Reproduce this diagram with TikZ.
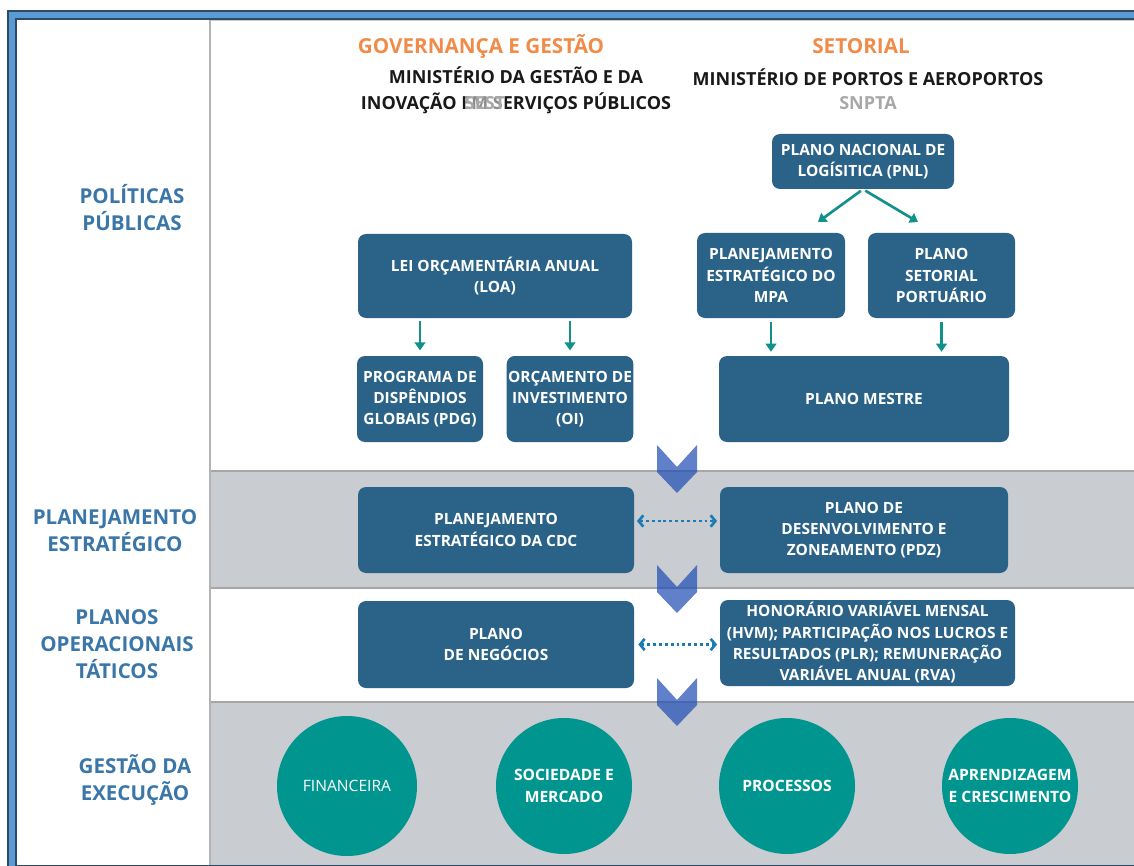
\documentclass[tikz,border=0pt]{standalone}
\usepackage{fontspec}
\setmainfont{Open Sans}
\usetikzlibrary{arrows.meta, positioning, shapes.geometric}
\definecolor{boxblue}{HTML}{2B6388}
\definecolor{areateal}{HTML}{00968F}
\definecolor{flowteal}{HTML}{12918A}
\definecolor{linkblue}{HTML}{1A7BB5}
\definecolor{layerblue}{HTML}{3A76A8}
\definecolor{headorange}{HTML}{F08C4A}
\definecolor{headgray}{HTML}{A8A8A8}
\definecolor{bandgray}{HTML}{C9CCD1}
\definecolor{rulegray}{HTML}{A6A6A6}
\definecolor{framedark}{HTML}{2E4A66}
\definecolor{frameblue}{HTML}{5B9BD5}
\definecolor{chevblue}{RGB}{30,75,180}
\newcommand{\bxfont}{\fontsize{11.6}{16}\selectfont\bfseries}
\newcommand{\lyfont}{\fontsize{15.4}{20.25}\selectfont\bfseries}
\newcommand{\hdfont}{\fontsize{13.5}{19.5}\selectfont\bfseries}
\tikzset{
	block/.style={fill=boxblue, rounded corners=6pt, text=white, font=\bxfont, align=center, inner sep=1pt},
	area/.style={circle, fill=areateal, minimum size=102pt, inner sep=0pt, text=white, align=center, font=\fontsize{11.7}{17}\selectfont\bfseries},
	layer/.style={text=layerblue, font=\lyfont, align=center},
	head/.style={font=\hdfont, align=center, text=black!90},
	title/.style={font=\fontsize{15.5}{19.5}\selectfont\bfseries, text=headorange},
	flow/.style={draw=flowteal, line width=2pt, -{Triangle[width=8pt,length=6pt]}},
	link/.style={draw=linkblue, line width=2pt, dash pattern=on 2.2pt off 2.2pt, {Straight Barb[length=3.5pt,width=8.5pt]}-{Straight Barb[length=3.5pt,width=8.5pt]}},
	chev/.style={fill=chevblue, fill opacity=0.7}
}

\begin{document}
\begin{tikzpicture}[x=0.75pt, y=-0.75pt]
		\useasboundingbox (0,0) rectangle (1134,866);
		
		% frame and bands
		\fill[white] (0,0) rectangle (1134,866);
		\fill[bandgray] (210,471) rectangle (1150,588);
		\fill[bandgray] (210,702) rectangle (1150,880);
		\draw[rulegray!60, line width=1.5pt] (210,20) -- (1150,20);
		\draw[rulegray, line width=1.8pt] (210,471) -- (1150,471);
		\draw[rulegray, line width=1.8pt] (210,588) -- (1150,588);
		\draw[rulegray, line width=1.8pt] (210,702) -- (1150,702);
		\draw[rulegray!85, line width=1.2pt] (210,20) -- (210,870);
		\draw[framedark, line width=7.8pt] (12,15) rectangle (1150,870);
		\draw[frameblue, line width=5.2pt] (12,15) rectangle (1150,870);
		
		% column heads
		\node[title] (gov) at (481,46) {GOVERNANÇA E GESTÃO};
		\node[head] (mgi) at (516,90) {MINISTÉRIO DA GESTÃO E DA\\INOVAÇÃO EM SERVIÇOS PÚBLICOS};
		\node[head, text=headgray, fill=white, fill opacity=0.5, text opacity=1, inner sep=0pt] (sest) at (485,103) {SEST};
		\node[title] (set) at (861,46) {SETORIAL};
		\node[head] (mpor) at (868,77) {MINISTÉRIO DE PORTOS E AEROPORTOS};
		\node[head, text=headgray] (snpta) at (868,103) {SNPTA};
		
		% layers
		\node[layer] (pol) at (132,208) {POLÍTICAS\\PÚBLICAS};
		\node[layer] (pest) at (115,531) {PLANEJAMENTO\\ESTRATÉGICO};
		\node[layer] (pot) at (117,644) {PLANOS\\OPERACIONAIS\\TÁTICOS};
		\node[layer] (gex) at (135,780) {GESTÃO DA\\EXECUÇÃO};
		
		% chevrons
		\foreach \t in {445,565,678}
			\fill[chev] (657,\t) -- (677,\t+22) -- (697,\t) -- (697,\t+27) -- (677,\t+48) -- (657,\t+27) -- cycle;
		
		% boxes
		\node[block, minimum width=136.5pt, minimum height=41.25pt] (pnl) at (863,161.5) {PLANO NACIONAL DE\\LOGÍSITICA (PNL)};
		\node[block, minimum width=205.5pt, minimum height=63pt] (loa) at (495,276) {LEI ORÇAMENTÁRIA ANUAL\\(LOA)};
		\node[block, minimum width=111pt, minimum height=63.75pt] (mpa) at (771,275.5) {PLANEJAMENTO\\ESTRATÉGICO DO\\MPA};
		\node[block, minimum width=110.25pt, minimum height=63.75pt] (psp) at (941.5,275.5) {PLANO\\SETORIAL\\PORTUÁRIO};
		\node[block, minimum width=94.5pt, minimum height=64.5pt] (pdg) at (420,399) {PROGRAMA DE\\DISPÊNDIOS\\GLOBAIS (PDG)};
		\node[block, minimum width=94.5pt, minimum height=64.5pt] (oi) at (570,399) {ORÇAMENTO DE\\INVESTIMENTO\\(OI)};
		\node[block, minimum width=217.5pt, minimum height=64.5pt] (mestre) at (864,399) {PLANO MESTRE};
		\node[block, minimum width=207pt, minimum height=64.5pt] (cdc) at (496,530) {PLANEJAMENTO\\ESTRATÉGICO DA CDC};
		\node[block, minimum width=216pt, minimum height=64.5pt] (pdz) at (864,530) {PLANO DE\\DESENVOLVIMENTO E\\ZONEAMENTO (PDZ)};
		\node[block, minimum width=207pt, minimum height=65.25pt] (neg) at (496,644.5) {PLANO\\DE NEGÓCIOS};
		\node[block, minimum width=221.25pt, minimum height=64.5pt] (hvm) at (867.5,643) {HONORÁRIO VARIÁVEL MENSAL\\(HVM); PARTICIPAÇÃO NOS LUCROS E\\RESULTADOS (PLR); REMUNERAÇÃO\\VARIÁVEL ANUAL (RVA)};
		
		% perspectives
		\node[area, minimum size=105pt, font=\fontsize{11.7}{17}\selectfont] (fin) at (347,786) {FINANCEIRA};
		\node[area] (soc) at (564,786) {SOCIEDADE E\\MERCADO};
		\node[area] (proc) at (787,786) {PROCESSOS};
		\node[area] (apr) at (1010,786) {APRENDIZAGEM\\E CRESCIMENTO};
		
		% connectors
		\coordinate (pnl-l) at (818,222);
		\coordinate (pnl-r) at (918,222);
		\draw[flow, shorten <=2pt] (pnl.south) -- (pnl-l);
		\draw[flow, shorten <=2pt] (pnl.south) -- (pnl-r);
		\draw[flow, shorten <=2pt, shorten >=4pt] (loa.south -| pdg.north) -- (pdg.north);
		\draw[flow, shorten <=2pt, shorten >=4pt] (loa.south -| oi.north) -- (oi.north);
		\draw[flow, shorten <=3pt, shorten >=3pt] (mpa.south) -- (mpa.south |- mestre.north);
		\draw[flow, shorten <=3pt, shorten >=3pt] (psp.south) -- (psp.south |- mestre.north);
		\draw[link, shorten <=2pt, shorten >=2pt] ([yshift=6.75pt]cdc.east) -- ([yshift=6.75pt]pdz.west);
		\draw[link, shorten <=3pt, shorten >=2pt] (neg.east) -- (neg.east -| hvm.west);
	\end{tikzpicture}
\end{document}
